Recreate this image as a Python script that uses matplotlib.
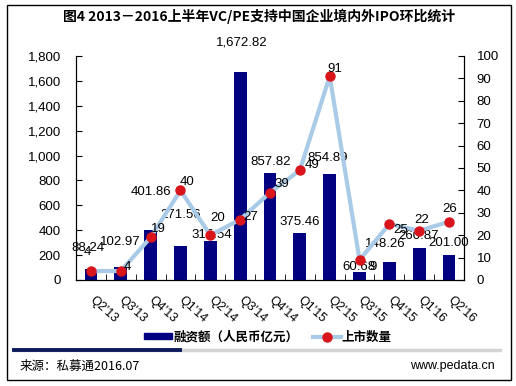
import matplotlib.pyplot as plt
from matplotlib.lines import Line2D
from matplotlib.patches import Rectangle, Patch
from matplotlib.transforms import ScaledTranslation
import numpy as np

plt.rcParams['font.family'] = ['Liberation Sans', 'Noto Sans CJK SC']

quarters = ["Q2'13", "Q3'13", "Q4'13", "Q1'14", "Q2'14", "Q3'14", "Q4'14",
            "Q1'15", "Q2'15", "Q3'15", "Q4'15", "Q1'16", "Q2'16"]
amount = [88.24, 102.97, 401.86, 271.56, 315.54, 1672.82, 857.82,
          375.46, 854.89, 60.68, 148.26, 260.87, 201.00]
ipo_count = [4, 4, 19, 40, 20, 27, 39, 49, 91, 9, 25, 22, 26]

# label offsets (pixels, x right / y up) as placed in the original chart
amount_off = [(-3, 21), (-1, 25), (0, 38), (0, 31), (1, 6), (2, 29), (1, 11),
              (0, 11), (-2, 16), (-1, 5), (-4, 18), (-1, 12), (0, 12)]
count_off = [(-4, 19), (7, 4), (8, 8), (7, 8), (7, 17), (11, 3), (12, 9),
             (12, 5), (5, 7), (14, -7), (11, -6), (2, 11), (1, 13)]

W, H = 516, 386
fig = plt.figure(figsize=(W / 100, H / 100), dpi=100)
ax = fig.add_axes([76 / W, 1 - 280 / H, 388 / W, 224 / H])
ax2 = ax.twinx()

x = np.arange(len(quarters))
navy = '#000080'
ax.bar(x, amount, width=0.43, color=navy, zorder=2)
ax.set_xlim(-0.5, len(quarters) - 0.5)
ax.set_ylim(0, 1800)
ax.set_yticks(np.arange(0, 1801, 200))
ax.set_yticklabels([f'{v:,}' for v in range(0, 1801, 200)])

ax2.plot(x, ipo_count, color='#a9cbe8', lw=3, marker='o', ms=6.5,
         mfc='#d9141b', mec='#d9141b', zorder=3)
ax2.set_ylim(0, 100)
ax2.set_yticks(np.arange(0, 101, 10))

for a in (ax, ax2):
    a.spines['top'].set_visible(False)
    a.tick_params(axis='y', direction='in', length=4, labelsize=9.5)
ax.tick_params(axis='y', pad=11)
ax2.tick_params(axis='y', pad=9)

ax.set_xticks(x)
ax.set_xticklabels(quarters, rotation=-42, ha='left', va='top',
                   rotation_mode='anchor', fontsize=9)
ax.set_xticks(np.arange(-0.5, len(quarters), 1), minor=True)
ax.tick_params(axis='x', which='major', length=0, pad=10)
ax.tick_params(axis='x', which='minor', direction='in', length=4)
shift = ScaledTranslation(4 / 100, 0, fig.dpi_scale_trans)
for lab in ax.get_xticklabels():
    lab.set_transform(lab.get_transform() + shift)

k = 0.72
for i, v in enumerate(amount):
    dx, dy = amount_off[i]
    ax.annotate(f'{v:,.2f}', (x[i], v), xytext=(dx * k, dy * k),
                textcoords='offset points', ha='center', va='center',
                fontsize=9.5, zorder=5)
for i, v in enumerate(ipo_count):
    dx, dy = count_off[i]
    ax2.annotate(str(v), (x[i], v), xytext=(dx * k, dy * k),
                 textcoords='offset points', ha='center', va='center',
                 fontsize=9.5, zorder=5)

fig.text(63 / W, 1 - 16 / H, '图4 2013－2016上半年VC/PE支持中国企业境内外IPO环比统计',
         ha='left', va='center', fontsize=10, fontweight='bold',
         family=['Noto Sans CJK SC'])

handles = [Patch(color=navy),
           Line2D([], [], color='#a9cbe8', lw=3, marker='o', ms=6.5,
                  mfc='#d9141b', mec='#d9141b')]
fig.legend(handles, ['融资额（人民币亿元）', '上市数量'], loc='center',
           bbox_to_anchor=(268 / W, 1 - 337 / H), ncol=2, frameon=False,
           prop={'family': 'Noto Sans CJK SC', 'weight': 'bold', 'size': 9},
           handlelength=2.2, handleheight=0.35, handletextpad=0.1,
           columnspacing=1.2)

fig.add_artist(Line2D([14 / W, 500 / W], [1 - 350 / H] * 2, color='#d4d4d4',
                      lw=2.5, transform=fig.transFigure))
fig.add_artist(Line2D([14 / W, 180 / W], [1 - 350 / H] * 2, color='#0d1a5c',
                      lw=2.8, transform=fig.transFigure))
fig.text(20 / W, 1 - 366 / H, '来源：私募通2016.07', ha='left', va='center',
         fontsize=9, family=['Noto Sans CJK SC'])
fig.text(495 / W, 1 - 366 / H, 'www.pedata.cn', ha='right', va='center',
         fontsize=9)
fig.add_artist(Rectangle((7 / W, 1 - 380 / H), 504 / W, 375 / H, fill=False,
                         ec='black', lw=1, transform=fig.transFigure))

plt.savefig('out.png', dpi=100)
